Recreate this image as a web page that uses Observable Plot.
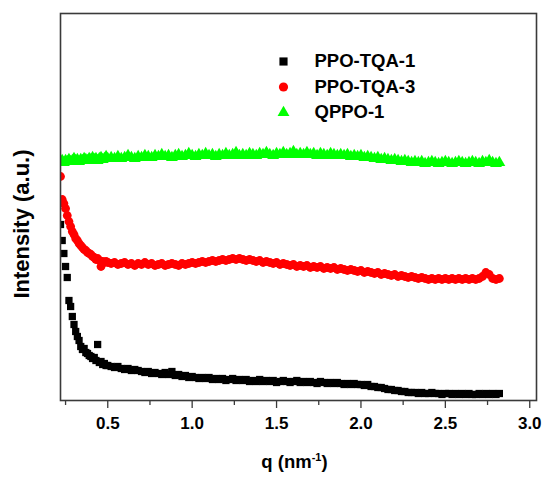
<!DOCTYPE html>
<html>
<head>
<meta charset="utf-8">
<script src="https://cdn.jsdelivr.net/npm/d3@7"></script>
<script src="https://cdn.jsdelivr.net/npm/@observablehq/plot@0.6"></script>
<style>
  body { margin: 0; background: #fff; }
</style>
</head>
<body>
<div id="chart"></div>
<script>
// Scattering vector q (nm^-1): finer sampling at low q where the curves fall steeply
const q = [
  0.22,0.23,0.24,0.25,0.26,0.27,0.28,0.29,0.30,0.31,
  0.32,0.33,0.34,0.35,0.36,0.37,0.38,0.39,0.40,0.41,
  0.42,0.43,0.44,0.45,0.46,0.47,0.48,0.49,0.50,
  0.52,0.54,0.56,0.58,0.60,0.62,0.64,0.66,0.68,0.70,
  0.72,0.74,0.76,0.78,0.80,0.82,0.84,0.86,0.88,0.90,
  0.92,0.94,0.96,0.98,1.00,1.02,1.04,1.06,1.08,1.10,
  1.12,1.14,1.16,1.18,1.20,1.22,1.24,1.26,1.28,1.30,
  1.32,1.34,1.36,1.38,1.40,1.42,1.44,1.46,1.48,1.50,
  1.52,1.54,1.56,1.58,1.60,1.62,1.64,1.66,1.68,1.70,
  1.72,1.74,1.76,1.78,1.80,1.82,1.84,1.86,1.88,1.90,
  1.92,1.94,1.96,1.98,2.00,2.02,2.04,2.06,2.08,2.10,
  2.12,2.14,2.16,2.18,2.20,2.22,2.24,2.26,2.28,2.30,
  2.32,2.34,2.36,2.38,2.40,2.42,2.44,2.46,2.48,2.50,
  2.52,2.54,2.56,2.58,2.60,2.62,2.64,2.66,2.68,2.70,
  2.72,2.74,2.76,2.78,2.80,2.82
];

// Offset intensities (a.u.) for each membrane
const ppoTqa1 = [
  176,160,147,134,123,100,94,84,76,69,
  64,60,54,51,52,48,47,45,44,42,
  43,40,56,38,39,36,37,35,35,
  34,33,34,32,31,32,30,31,30,29,
  28,29,27,28,27,26,28,26,29,25,
  26,24,25,23,24,23,22,23,22,23,
  21,22,21,22,20,21,22,20,21,20,
  21,19,20,19,21,19,20,19,20,18,
  19,20,19,18,19,20,18,19,18,19,
  18,17,19,18,17,18,17,18,17,16,
  17,16,17,16,16,15,16,14,14,13,
  13,12,11,11,10,10,9,9,8,8,
  8,7,8,7,7,8,7,7,6,7,
  7,6,7,6,7,6,7,6,6,7,
  6,7,6,7,6,7
];

const ppoTqa3 = [
  224,201,197,192,185,179,174,169,166,162,
  160,157,155,153,151,150,148,147,146,144,
  143,141,142,140,134,139,138,139,138,
  137,138,136,137,138,136,137,135,137,136,
  138,136,137,135,136,137,135,136,137,136,
  135,137,136,137,138,137,138,139,138,139,
  140,139,140,141,140,141,142,141,142,141,
  140,141,140,139,140,138,139,138,137,138,
  136,137,136,135,136,134,135,134,135,133,
  134,133,134,132,133,132,133,131,132,131,
  130,131,130,129,130,128,129,128,127,128,
  126,127,126,125,126,124,125,124,123,124,
  123,122,123,122,121,122,121,122,121,122,
  121,122,121,122,121,122,121,122,121,122,
  124,128,126,122,121,122
];

const qppo1 = [
  239,240,238,240,239,241,239,240,242,240,
  241,239,241,240,242,241,240,242,241,243,
  241,242,240,242,243,241,242,244,242,
  243,242,244,242,243,245,243,242,244,243,
  245,244,243,245,244,246,244,245,243,245,
  246,244,245,247,245,244,246,245,247,245,
  246,244,246,245,247,245,246,248,245,246,
  245,247,246,245,247,246,248,246,245,247,
  246,248,246,247,249,246,247,246,248,246,
  247,245,247,246,245,247,246,245,246,245,
  246,244,245,244,245,243,244,243,242,243,
  241,242,241,240,241,240,239,240,239,238,
  239,238,239,237,238,239,238,237,238,239,
  238,237,238,239,238,237,238,239,238,237,
  239,238,240,238,237,238
];

const seriesNames = ["PPO-TQA-1", "PPO-TQA-3", "QPPO-1"];
const seriesValues = [ppoTqa1, ppoTqa3, qppo1];
const seriesColors = ["#000000", "#ff0000", "#00ff00"];
const seriesSymbols = ["square", "circle", "triangle"];
const seriesRadius = [4.1, 4.4, 4.4];

const majorTicks = [0.5, 1.0, 1.5, 2.0, 2.5, 3.0];
const minorTicks = [0.25, 0.75, 1.25, 1.75, 2.25, 2.75];
const xTitleParts = ["q (nm", "-1", ")"];
const yTitle = "Intensity (a.u.)";

const axisColor = "#3a3a3a";
const font = "'Liberation Sans', Arial, Helvetica, sans-serif";

// One mark per series, drawn black → red → green so later series sit on top
const seriesMarks = seriesNames.map((name, s) =>
  Plot.dot(
    q.map((x, i) => ({q: x, v: seriesValues[s][i]})),
    {x: "q", y: "v", symbol: seriesSymbols[s], r: seriesRadius[s],
     fill: seriesColors[s], stroke: "none", clip: true}
  )
);

// Legend drawn inside the frame, anchored to its top-left corner
const legendMarks = seriesNames.flatMap((name, s) => [
  Plot.dot([name], {frameAnchor: "top-left", dx: 223, dy: 48 + 25.5 * s,
    symbol: seriesSymbols[s], r: s === 2 ? 4.4 : 4.6, fill: seriesColors[s], stroke: "none"}),
  Plot.text([name], {frameAnchor: "top-left", dx: 254, dy: 48 + 25.5 * s,
    text: d => d, textAnchor: "start", lineAnchor: "middle",
    fontSize: 18.5, fontWeight: "bold", fill: "#000"})
]);

const chart = Plot.plot({
  width: 544,
  height: 479,
  marginLeft: 60,
  marginRight: 8,
  marginTop: 13,
  marginBottom: 79,
  style: {fontFamily: font, background: "#fff", color: "#000", overflow: "visible"},
  x: {domain: [0.22, 3.04]},
  y: {domain: [0, 387], axis: null},
  marks: [
    ...seriesMarks,
    Plot.frame({stroke: axisColor, strokeWidth: 1.6}),
    Plot.axisX(minorTicks, {tickSize: 5, tickFormat: () => "", label: null,
      stroke: axisColor, strokeWidth: 1.3}),
    Plot.axisX(majorTicks, {tickSize: 8, tickPadding: 8, tickFormat: d3.format(".1f"),
      label: null, stroke: axisColor, strokeWidth: 1.3,
      fontSize: 17, fontWeight: "bold", fill: "#000"}),
    Plot.text([xTitleParts.join("")], {frameAnchor: "bottom", dx: -4, dy: 62,
      text: d => d, textAnchor: "middle", lineAnchor: "middle",
      fontSize: 18.5, fontWeight: "bold", fill: "#000"}),
    Plot.text([yTitle], {frameAnchor: "left", dx: -39, dy: 17, rotate: -90,
      text: d => d, textAnchor: "middle", lineAnchor: "middle",
      fontSize: 22, fontWeight: "bold", fill: "#000"}),
    ...legendMarks
  ]
});

// Render the unit exponent of the x title as a superscript
d3.select(chart).selectAll("text")
  .filter(function () { return this.textContent === xTitleParts.join(""); })
  .each(function () {
    const t = d3.select(this);
    t.text(null);
    t.append("tspan").text(xTitleParts[0]);
    t.append("tspan").attr("font-size", 11).attr("dy", -7).text(xTitleParts[1]);
    t.append("tspan").attr("dy", 7).text(xTitleParts[2]);
  });

document.getElementById("chart").append(chart);
</script>
</body>
</html>
